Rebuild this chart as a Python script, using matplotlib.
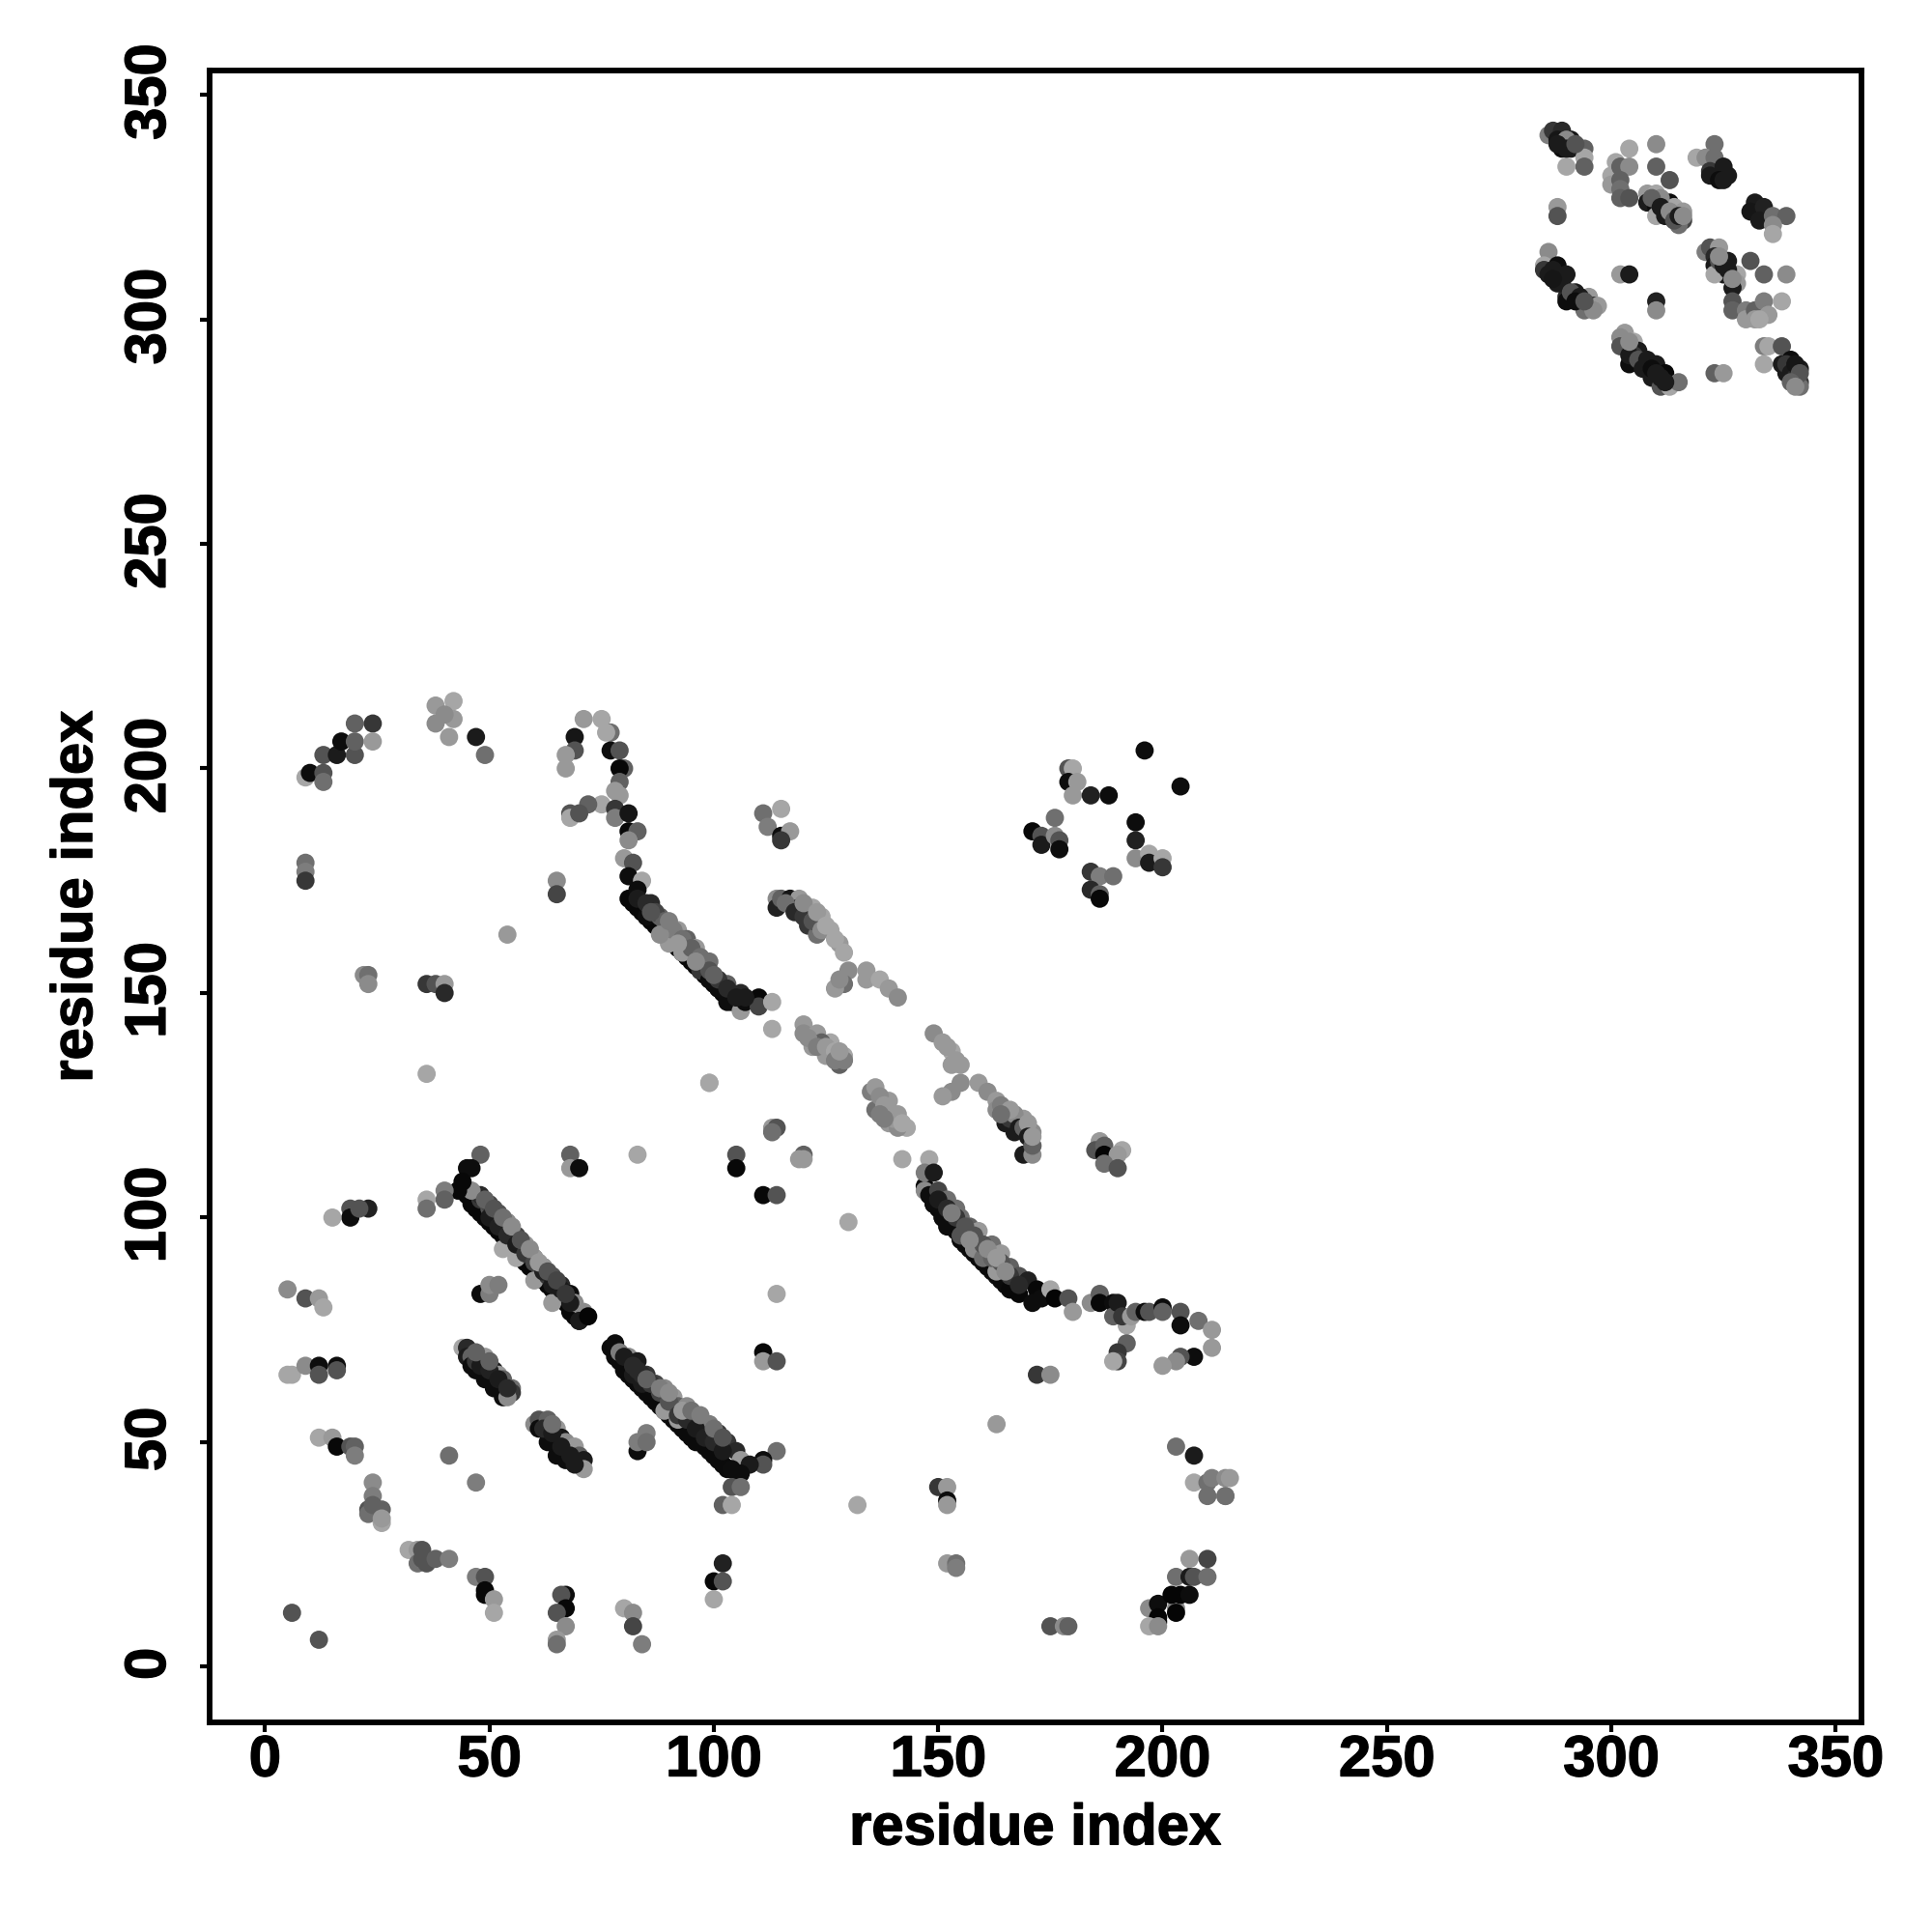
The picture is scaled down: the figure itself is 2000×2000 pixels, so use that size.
import matplotlib.pyplot as plt
import matplotlib.patheffects as pe
import matplotlib.transforms as mtrans
import numpy as np

plt.rcParams.update({"font.family": "Liberation Sans", "font.weight": "bold"})

# contacts are (residue, residue, grey level), one block per part of the map

# domain 2 block, top right
dom2_x = [286, 287, 289, 288, 289, 291, 291, 294, 294, 294, 290, 290,
          304, 310, 301, 300, 302, 304, 310, 313, 300, 302, 302, 302, 304,
          308, 310, 308, 312, 310, 311, 313, 310, 312, 314, 316, 316, 315, 311,
          323, 319, 321, 323, 322, 325, 322, 326, 324, 325,
          332, 331, 334, 333, 336, 339, 336, 336,
          286, 285, 285, 288, 286, 290, 288, 290, 290, 292, 295, 294, 296, 297, 296,
          302, 304, 310, 310,
          321, 322, 324, 323, 326, 323, 325, 323, 328, 328, 327, 331, 334, 339,
          327, 327, 330, 330, 332, 334, 338, 335, 332, 333,
          303, 305, 302, 302, 306, 304, 305, 308, 310, 309, 312, 311, 313, 315,
          323, 325, 334, 335, 334, 338, 340, 338, 339, 342, 342, 342, 288, 288]
dom2_y = [341, 342, 342, 340, 338, 340, 338, 338, 336, 334, 334, 340,
          338, 339, 335, 332, 334, 334, 334, 331, 330, 331, 329, 327, 327,
          328, 328, 326, 326, 325, 324, 326, 323, 323, 325, 324, 322, 321, 327,
          339, 336, 336, 336, 333, 334, 332, 332, 331, 331,
          326, 324, 325, 322, 323, 323, 321, 319,
          315, 312, 311, 312, 310, 310, 308, 305, 304, 306, 305, 302, 303, 303, 302,
          310, 310, 304, 302,
          315, 316, 316, 314, 313, 312, 310, 310, 310, 308, 307, 313, 310, 310,
          304, 302, 302, 300, 302, 304, 304, 301, 300, 300,
          297, 295, 296, 294, 293, 290, 292, 290, 290, 287, 288, 285, 285, 286,
          288, 288, 294, 294, 290, 294, 291, 290, 288, 289, 286, 285, 325, 323]
dom2_g = [.45, .2, .15, .08, .05, .08, .1, .35, .6, .35, .6, .5,
          .6, .5, .6, .6, .35, .5, .35, .3, .55, .35, .4, .35, .3,
          .55, .6, .1, .1, .05, .05, .05, .6, .1, .6, .55, .25, .4, .5,
          .4, .6, .5, .4, .2, .1, .1, .1, .05, .1,
          .1, .08, .12, .1, .4, .35, .5, .6,
          .5, .6, .2, .05, .1, .1, .1, .15, .05, .1, .55, .4, .1, .55, .5,
          .55, .1, .12, .5,
          .45, .3, .55, .15, .1, .1, .1, .6, .6, .55, .1, .3, .35, .5,
          .3, .35, .45, .55, .35, .45, .6, .55, .55, .6,
          .55, .6, .5, .3, .1, .05, .2, .1, .1, .1, .03, .3, .6, .4,
          .35, .55, .45, .6, .6, .3, .05, .1, .1, .1, .2, .4, .55, .3]

# long antiparallel stretch 45-72, dark row first then the lighter ones on top
hel1_x = [45, 46, 47, 48, 49, 50, 51, 52, 53, 54, 55, 56, 57,
          58, 59, 60, 61, 62, 63, 64, 65, 66, 67, 68, 69, 70,
          53, 56, 60, 64,
          48, 50, 52, 54, 56, 58, 60, 62, 64, 66,
          48, 50, 52, 54, 56, 58, 60, 62, 63, 65, 68, 69, 71, 70, 72, 46,
          48, 46, 45, 44, 43, 40, 40]
hel1_y = [105, 103, 102, 101, 100, 99, 98, 97, 96, 95, 94, 93, 91,
          90, 89, 88, 87, 86, 85, 84, 83, 82, 81, 79, 78, 77,
          93, 91, 86, 81,
          104, 102, 100, 98, 96, 93, 91, 89, 87, 85,
          105, 103, 101, 99, 96, 94, 91, 89, 87, 85, 83, 81, 79, 77, 78, 106,
          114, 111, 111, 108, 106, 106, 104]
hel1_g = [.03, .03, .03, .03, .03, .03, .03, .03, .03, .03, .03, .03, .03,
          .03, .03, .03, .03, .03, .03, .03, .03, .03, .03, .03, .03, .03,
          .6, .6, .55, .55,
          .2, .3, .3, .35, .35, .4, .45, .3, .3, .15,
          .15, .25, .3, .5, .25, .55, .55, .55, .2, .3, .05, .5, .5, .1, .02, .5,
          .35, .05, .05, .03, .03, .45, .35]

# same stretch continued, 78-106
hel2_x = [77, 78, 78, 79, 80, 81, 82, 83, 84, 85, 86, 87, 88, 89, 90,
          91, 92, 93, 94, 95, 96, 97, 98, 99, 100, 101, 102, 103, 104,
          78, 79, 81, 83, 82, 84, 83, 85, 87, 89, 91, 89, 92, 92, 94,
          96, 97, 99, 101, 103, 105, 106, 114, 111, 111, 108, 106, 104,
          104, 106, 102, 104]
hel2_y = [71, 70, 69, 68, 66, 65, 64, 63, 62, 61, 60, 59, 58, 57, 56,
          55, 54, 53, 52, 51, 50, 50, 49, 48, 47, 46, 45, 44, 44,
          72, 70, 69, 68, 65, 63, 66, 65, 63, 62, 60, 57, 55, 58, 58,
          56, 55, 54, 52, 50, 48, 46, 48, 46, 45, 45, 43, 44,
          40, 40, 36, 36]
hel2_g = [.04, .04, .04, .04, .04, .04, .04, .04, .04, .04, .04, .04, .04, .04, .04,
          .04, .04, .04, .04, .04, .04, .04, .04, .04, .04, .04, .04, .04, .04,
          .05, .45, .5, .1, .1, .1, .15, .2, .25, .5, .55, .55, .55, .35, .5,
          .2, .55, .45, .2, .2, .15, .55, .4, .05, .3, .1, .05, .05,
          .3, .4, .35, .6]

# two short stretches under the long one
short_x = [44, 45, 45, 46, 46, 47, 49, 51, 53, 49, 51, 52, 53, 55, 55, 54,
           60, 61, 61, 63, 63, 65, 67, 65, 66, 67, 69, 70, 71, 71, 69]
short_y = [71, 71, 69, 69, 67, 66, 64, 62, 60, 69, 66, 65, 64, 62, 61, 60,
           54, 55, 53, 55, 50, 47, 46, 53, 51, 50, 49, 47, 46, 44, 45]
short_g = [.6, .15, .1, .35, .05, .05, .05, .05, .05, .55, .1, .55, .35, .4, .2, .5,
           .5, .3, .05, .35, .05, .05, .05, .55, .08, .5, .55, .35, .1, .55, .1]

# scattered contacts around the lower left arc
arc_x = [68, 68, 70, 83, 105, 105, 113, 114, 113, 120, 119, 120, 111, 114,
         23, 19, 19, 21, 15, 36, 36, 5, 9, 12, 13, 114, 48, 50, 50, 52,
         5, 6, 9, 12, 12, 16, 16, 111, 111, 114, 12, 15, 16, 19, 20, 20,
         41, 47, 24, 24, 23, 23, 26, 26, 24, 26,
         32, 34, 35, 34, 36, 35, 38, 41, 47, 49, 49, 49, 51, 51,
         67, 66, 67, 65, 67, 65, 65, 80, 82, 82, 84, 6, 12,
         102, 100, 102, 100, 83, 83, 85, 85, 130, 99]
arc_y = [114, 111, 111, 114, 114, 111, 120, 120, 119, 114, 113, 113, 105, 105,
         102, 102, 100, 102, 100, 104, 102, 84, 82, 82, 80, 83, 83, 83, 85, 85,
         65, 65, 67, 67, 65, 67, 66, 70, 68, 68, 51, 51, 49, 49, 49, 47,
         47, 41, 41, 38, 35, 34, 35, 32, 36, 33,
         26, 26, 26, 23, 23, 24, 24, 24, 20, 20, 17, 16, 15, 12,
         16, 16, 13, 12, 9, 6, 5, 13, 12, 9, 5, 12, 6,
         23, 19, 19, 15, 48, 50, 52, 50, 99, 130]
arc_g = [.35, .55, .05, .6, .3, .03, .55, .3, .4, .35, .55, .55, .03, .3,
         .12, .3, .05, .3, .6, .6, .4, .5, .3, .55, .6, .6, .05, .45, .5, .45,
         .6, .6, .5, .05, .3, .05, .3, .03, .55, .3, .6, .55, .03, .3, .35, .45,
         .4, .45, .5, .45, .3, .4, .35, .6, .35, .55,
         .6, .55, .3, .4, .3, .3, .35, .45, .45, .3, .03, .03, .55, .6,
         .05, .3, .03, .3, .5, .55, .4, .6, .5, .25, .45, .3, .3,
         .12, .03, .3, .6, .05, .45, .45, .4, .6, .6]

# stretch 147-180 and its tail to the right
hel3_x = [147, 148, 149, 150, 151, 152, 153, 154, 155, 156, 157, 158, 159, 160, 161,
          162, 163, 164, 165, 166, 142, 148, 147, 149, 147, 148, 150, 152, 149, 151,
          154, 152, 155, 155, 157, 159, 158, 162, 160, 164, 163, 166, 166, 168, 168,
          170, 172, 171, 173, 175, 176, 179, 180,
          184, 186, 186, 189, 189, 190, 192, 191, 193, 194, 196, 197, 200, 200, 204,
          204, 208, 211, 211, 207, 204, 203, 200, 192, 190, 190, 189, 172, 175]
hel3_y = [107, 105, 103, 102, 100, 99, 98, 97, 95, 94, 93, 92, 91, 90, 89,
          88, 87, 86, 85, 84, 113, 113, 110, 110, 106, 105, 106, 104, 103, 100,
          102, 98, 96, 100, 98, 97, 93, 94, 91, 92, 88, 89, 84, 87, 83,
          86, 84, 81, 82, 84, 82, 82, 79,
          81, 83, 81, 81, 78, 81, 76, 78, 78, 79, 79, 79, 80, 79, 79,
          76, 77, 75, 71, 69, 69, 68, 67, 72, 70, 68, 68, 65, 65]
hel3_g = [.04, .04, .04, .04, .04, .04, .04, .04, .04, .04, .04, .04, .04, .04, .04,
          .04, .04, .04, .04, .04, .6, .6, .45, .1, .5, .05, .25, .4, .05, .05,
          .4, .05, .3, .4, .35, .55, .5, .4, .4, .55, .55, .35, .03, .3, .03,
          .12, .03, .05, .05, .6, .02, .3, .55,
          .5, .35, .03, .05, .35, .1, .6, .2, .55, .35, .05, .3, .05, .35, .3,
          .05, .4, .55, .55, .05, .3, .5, .55, .35, .2, .25, .6, .2, .5]

# lower right corner of the domain 1 block
corner_x = [163, 203, 207, 207, 210, 211, 214, 215, 210, 214, 214,
            150, 152, 152, 152, 132, 152, 154, 154, 175, 178, 179,
            197, 199, 199, 199, 197, 199, 203, 203, 202, 204, 206,
            203, 206, 207, 210, 206, 210,
            186, 185, 187, 191, 187, 190, 187, 190]
corner_y = [54, 49, 47, 41, 41, 42, 42, 42, 38, 38, 38,
            40, 40, 37, 36, 36, 23, 23, 22, 9, 9, 9,
            13, 14, 11, 10, 9, 9, 13, 12, 16, 16, 16,
            20, 20, 20, 20, 24, 24,
            117, 115, 116, 115, 114, 114, 112, 111]
corner_g = [.55, .4, .1, .6, .4, .45, .5, .55, .4, .55, .4,
            .2, .55, .05, .55, .6, .55, .4, .45, .3, .5, .35,
            .5, .05, .02, .02, .6, .5, .5, .02, .02, .02, .05,
            .4, .1, .3, .4, .55, .25,
            .55, .3, .35, .6, .02, .55, .4, .3]

# stretch 67-113 above the middle, with the curl at the top
hel4_x = [71, 75, 69, 77, 76, 69, 67, 67, 77, 79, 80, 79, 79, 78, 79, 75, 72, 68, 68,
          70, 78, 78, 81, 81, 83, 81, 80, 82, 81, 84,
          81, 82, 83, 84, 85, 86, 87, 88, 89, 90, 91, 92, 93, 94, 95, 96, 97, 98,
          99, 100, 101, 102, 103, 104,
          83, 86, 85, 88, 92, 90, 94, 90, 96, 93, 99, 97, 99, 101, 103, 106, 103,
          106, 107, 110, 110, 113, 65, 65, 113, 99]
hel4_y = [211, 211, 207, 208, 208, 204, 203, 200, 204, 204, 200, 200, 197, 195, 194,
          192, 192, 190, 189, 190, 191, 189, 190, 186, 186, 184, 180, 179, 176, 175,
          171, 170, 169, 168, 167, 166, 165, 164, 163, 162, 161, 160, 159, 158, 157,
          156, 155, 154, 153, 152, 151, 150, 149, 148,
          173, 170, 167, 167, 164, 165, 162, 161, 160, 159, 157, 155, 153, 151, 152,
          150, 148, 146, 148, 149, 147, 148, 175, 172, 142, 130]
hel4_g = [.55, .6, .08, .4, .6, .3, .55, .55, .05, .3, .35, .03, .35, .55, .55,
          .6, .35, .3, .6, .3, .2, .45, .08, .03, .35, .5, .55, .3, .05, .6,
          .03, .03, .03, .03, .03, .03, .03, .03, .03, .03, .03, .03, .03, .03, .03,
          .03, .03, .03, .03, .03, .03, .03, .03, .03,
          .05, .15, .05, .35, .55, .5, .35, .55, .55, .55, .4, .2, .05, .05, .35,
          .15, .05, .55, .05, .03, .25, .6, .5, .25, .6, .6]

# light stretches in the middle
light_x = [114, 114, 115, 117, 119, 119, 122, 121, 124, 123, 126, 128, 129, 130,
           129, 127, 128, 134, 134, 137, 139, 141,
           120, 120, 123, 122, 126, 124, 125, 129, 128, 129,
           135, 136, 139, 136, 141, 139, 143, 141,
           149, 151, 153, 155, 153, 155, 153, 151, 159, 161, 163, 165, 163, 165, 169,
           171, 167, 171, 169, 171,
           111, 115, 112, 115, 117, 115]
light_y = [171, 169, 171, 171, 171, 169, 169, 165, 167, 163, 164, 161, 159, 155,
           152, 151, 153, 155, 153, 153, 151, 149,
           143, 141, 141, 138, 139, 139, 136, 136, 134, 135,
           128, 129, 126, 124, 123, 121, 120, 120,
           141, 139, 137, 134, 134, 130, 128, 127, 130, 128, 126, 124, 124, 121, 122,
           119, 119, 116, 114, 114,
           190, 191, 187, 185, 186, 184]
light_g = [.5, .12, .35, .08, .55, .1, .6, .2, .6, .4, .6, .55, .6, .5,
           .4, .55, .5, .55, .55, .6, .55, .5,
           .55, .5, .55, .55, .6, .35, .55, .6, .35, .45,
           .45, .55, .55, .4, .55, .55, .6, .5,
           .5, .55, .6, .55, .55, .5, .5, .55, .55, .5, .55, .5, .5, .1, .55,
           .5, .1, .4, .1, .5,
           .4, .6, .45, .05, .55, .2]

# small ring around (185, 185)
ring_x = [196, 204, 179, 180, 179, 181, 180, 184, 188,
          176, 171, 173, 173, 176, 177, 177,
          194, 194, 194, 197, 197, 200, 200,
          184, 186, 189, 184, 186, 186]
ring_y = [204, 196, 200, 200, 197, 197, 194, 194, 194,
          189, 186, 185, 183, 185, 184, 182,
          188, 184, 180, 181, 179, 180, 178,
          177, 176, 176, 173, 172, 171]
ring_g = [.05, .05, .3, .6, .05, .55, .55, .12, .05,
          .4, .03, .3, .1, .5, .3, .05,
          .05, .12, .5, .6, .1, .6, .2,
          .2, .45, .4, .15, .35, .03]

# upper left arc
upper_x = [9, 10, 13, 13, 13, 16, 17, 20, 20, 20, 24, 24,
           38, 42, 38, 42, 41, 40, 47, 49,
           9, 9, 9, 22, 23, 23, 36, 38, 40, 40, 54, 36]
upper_y = [198, 199, 199, 197, 203, 203, 206, 203, 206, 210, 210, 206,
           214, 215, 210, 211, 207, 212, 207, 203,
           179, 177, 175, 154, 154, 152, 152, 152, 152, 150, 163, 132]
upper_g = [.6, .05, .3, .4, .3, .1, .05, .3, .35, .35, .2, .55,
           .55, .6, .5, .55, .55, .5, .1, .4,
           .4, .45, .2, .5, .4, .5, .2, .3, .55, .15, .55, .6]

# more contacts inside the dense stretches
dense_x = [50, 52, 54, 56, 58, 60, 62, 64, 66, 68,
           49, 51, 53, 55, 57, 59, 61, 63, 65, 67,
           47, 48, 50, 52, 54, 62, 64, 66, 68, 64, 47, 50,
           80, 82, 84, 86, 88, 90, 92, 94, 96, 98, 100, 102,
           85, 88, 90, 93, 95, 97, 100, 102,
           150, 152, 154, 156, 158, 160, 162, 164, 166, 168,
           157, 161, 163, 165, 153,
           83, 85, 87, 89, 91, 93, 95, 97, 99, 101, 103, 105, 107,
           88, 92, 96, 100, 86, 90,
           116, 118, 120, 120, 122, 123, 124, 125, 127,
           121, 123, 125, 127, 127, 128,
           137, 138, 137, 140, 142, 138,
           152, 154, 164, 166, 167, 168, 169, 170, 170, 166, 164, 171, 171,
           287, 289, 287, 291, 293, 292, 294, 288, 290, 292,
           304, 306, 307, 308, 309, 310, 311, 312, 304,
           309, 311, 313, 314, 315, 316,
           324, 325, 326, 327, 324,
           339, 340, 341, 341, 342, 340, 341]
dense_y = [100, 98, 96, 94, 92, 90, 88, 85, 84, 81,
           104, 102, 100, 98, 95, 93, 90, 88, 86, 83,
           68, 67, 66, 64, 62, 53, 52, 49, 47, 54, 70, 68,
           69, 67, 65, 63, 61, 59, 56, 55, 53, 51, 50, 48,
           64, 62, 61, 57, 57, 56, 53, 51,
           104, 102, 100, 98, 96, 94, 91, 90, 87, 85,
           95, 93, 91, 88, 101,
           171, 170, 168, 166, 164, 162, 160, 158, 155, 153, 151, 149, 149,
           163, 161, 157, 154, 168, 166,
           170, 168, 167, 170, 166, 168, 164, 165, 162,
           140, 138, 138, 137, 135, 137,
           127, 125, 123, 122, 121, 122,
           138, 135, 125, 122, 123, 120, 120, 121, 118, 124, 123, 116, 118,
           311, 308, 309, 306, 305, 304, 304, 339, 338, 339,
           292, 291, 289, 291, 289, 288, 287, 286, 295,
           327, 325, 324, 322, 323, 323,
           313, 312, 311, 309, 314,
           290, 288, 287, 290, 288, 286, 285]
dense_g = [.1, .12, .15, .1, .2, .25, .12, .1, .1, .1,
           .35, .3, .4, .5, .3, .5, .55, .3, .25, .2,
           .2, .1, .12, .1, .15, .15, .1, .1, .1, .4, .35, .35,
           .1, .15, .15, .2, .25, .3, .2, .15, .1, .12, .15, .1,
           .35, .45, .5, .55, .4, .45, .4, .3,
           .1, .15, .2, .3, .3, .3, .35, .3, .2, .15,
           .5, .5, .55, .5, .45,
           .1, .15, .25, .35, .45, .4, .35, .4, .3, .2, .15, .1, .1,
           .5, .55, .5, .35, .3, .45,
           .4, .15, .2, .5, .3, .55, .5, .6, .6,
           .5, .45, .55, .6, .45, .55,
           .5, .55, .45, .55, .6, .45,
           .55, .55, .45, .2, .5, .1, .35, .55, .1, .55, .4, .35, .55,
           .1, .1, .08, .3, .1, .05, .3, .1, .1, .3,
           .1, .3, .1, .1, .05, .1, .1, .1, .5,
           .35, .1, .5, .3, .1, .5,
           .3, .1, .1, .5, .5,
           .2, .1, .15, .08, .3, .35, .5]

tick_vals = [0, 50, 100, 150, 200, 250, 300, 350]

xs = dom2_x + hel1_x + hel2_x + short_x + arc_x + hel3_x + corner_x + hel4_x + light_x + ring_x + upper_x + dense_x
ys = dom2_y + hel1_y + hel2_y + short_y + arc_y + hel3_y + corner_y + hel4_y + light_y + ring_y + upper_y + dense_y
gs = dom2_g + hel1_g + hel2_g + short_g + arc_g + hel3_g + corner_g + hel4_g + light_g + ring_g + upper_g + dense_g

fig = plt.figure(figsize=(10, 10), dpi=200)
ax = fig.add_axes([0.1084, 0.1085, 0.855, 0.855])

ax.scatter(xs, ys, s=46, c=np.array(gs), cmap="gray", vmin=0, vmax=0.92, linewidths=0)

ax.set_xlim(-12.4, 355.7)
ax.set_ylim(-12.4, 355.4)
ax.set_xticks(tick_vals)
ax.set_yticks(tick_vals)
ax.tick_params(axis="both", length=3.5, width=1.5, labelsize=21.5)
ax.tick_params(axis="x", pad=1)
ax.tick_params(axis="y", pad=8.7)
up = mtrans.ScaledTranslation(0, 3 / 200, fig.dpi_scale_trans)
for lab in ax.get_yticklabels():
    lab.set_rotation(90)
    lab.set_va("center")
    lab.set_transform(lab.get_transform() + up)
for spine in ax.spines.values():
    spine.set_linewidth(2.1)

ax.set_xlabel("residue index", fontsize=21.5, fontweight="bold", labelpad=5.7)
ax.set_ylabel("residue index", fontsize=21.5, fontweight="bold", labelpad=7.5)

# the reference lettering is a little heavier than Liberation bold
heavy = [pe.withStroke(linewidth=0.5, foreground="black")]
for txt in ax.get_xticklabels() + ax.get_yticklabels() + [ax.xaxis.label, ax.yaxis.label]:
    txt.set_path_effects(heavy)

fig.savefig("out.png", dpi=200)
